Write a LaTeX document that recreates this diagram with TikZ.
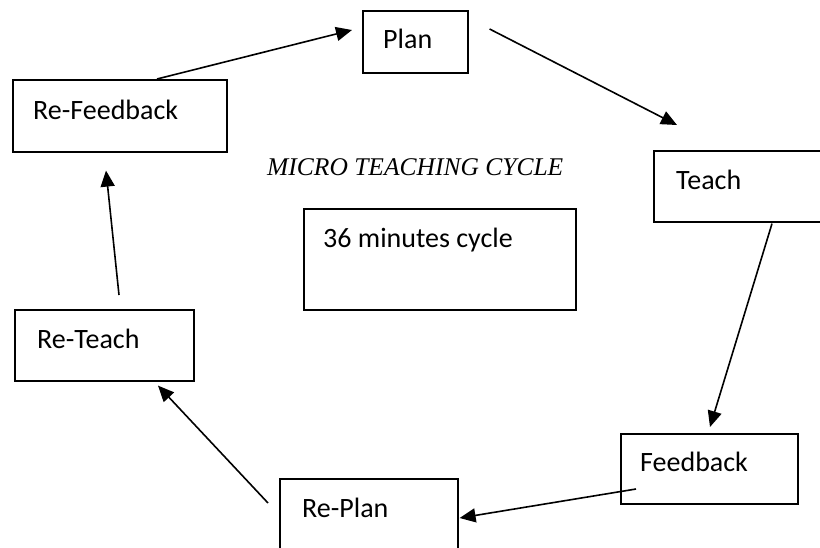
\documentclass[tikz,border=0pt]{standalone}
\usepackage{fontspec}
\setmainfont{Carlito}
\newfontfamily\titlefont{Liberation Serif}
\usetikzlibrary{calc,arrows.meta}
\begin{document}
\begin{tikzpicture}[x=1pt,y=-1pt,
        box/.style={draw,line width=1.6pt,inner sep=0pt,anchor=north west},
        txt/.style={anchor=base west,inner sep=0pt,font=\fontsize{28}{34}\selectfont},
        arr/.style={-{Triangle[length=16pt,width=14pt]},line width=1.6pt}]
        \useasboundingbox (0,0) rectangle (820,547);
        \clip (0,0) rectangle (820,547);
        % boxes of the cycle
        \node[box,minimum width=105pt,minimum height=62pt] (plan) at (362,10) {};
        \node[box,minimum width=180pt,minimum height=71pt] (teach) at (653,150) {};
        \node[box,minimum width=177pt,minimum height=70pt] (feedb) at (620,433) {};
        \node[box,minimum width=178pt,minimum height=82pt] (replan) at (279,478) {};
        \node[box,minimum width=179pt,minimum height=71pt] (reteach) at (14,309) {};
        \node[box,minimum width=214pt,minimum height=72pt] (refeedb) at (12,79) {};
        \node[box,minimum width=272pt,minimum height=101pt] (mins) at (303,208) {};
        \node[txt] (planT) at ($(plan.north west)+(21,38)$) {Plan};
        \node[txt] (teachT) at ($(teach.north west)+(23,39)$) {Teach};
        \node[txt] (feedbT) at ($(feedb.north west)+(20,38)$) {Feedback};
        \node[txt] (replanT) at ($(replan.north west)+(23,39)$) {Re-Plan};
        \node[txt] (reteachT) at ($(reteach.north west)+(23,39)$) {Re-Teach};
        \node[txt] (refeedbT) at ($(refeedb.north west)+(21,40)$) {Re-Feedback};
        \node[txt] (minsT) at ($(mins.north west)+(20,39)$) {36 minutes cycle};
        \node[anchor=base west,inner sep=0pt,font=\titlefont\itshape\fontsize{25.5}{30}\selectfont] (title) at (267,175) {MICRO TEACHING CYCLE};
        % arrows
        \draw[arr] ($(refeedb.north west)+(145,0)$) -- ($(plan.north west)+(-10,20)$);
        \draw[arr] ($(plan.north east)+(21,19)$) -- ($(teach.north west)+(24,-25)$);
        \draw[arr] ($(teach.south west)+(119,1)$) -- ($(feedb.north west)+(90,-6)$);
        \draw[arr] ($(feedb.north west)+(16,56)$) -- ($(replan.north east)+(1,40)$);
        \draw[arr] ($(replan.north west)+(-11,25)$) -- ($(reteach.south west)+(144,4)$);
        \draw[arr] ($(reteach.north west)+(105,-14)$) -- ($(refeedb.south west)+(94,18)$);
\end{tikzpicture}
\end{document}
